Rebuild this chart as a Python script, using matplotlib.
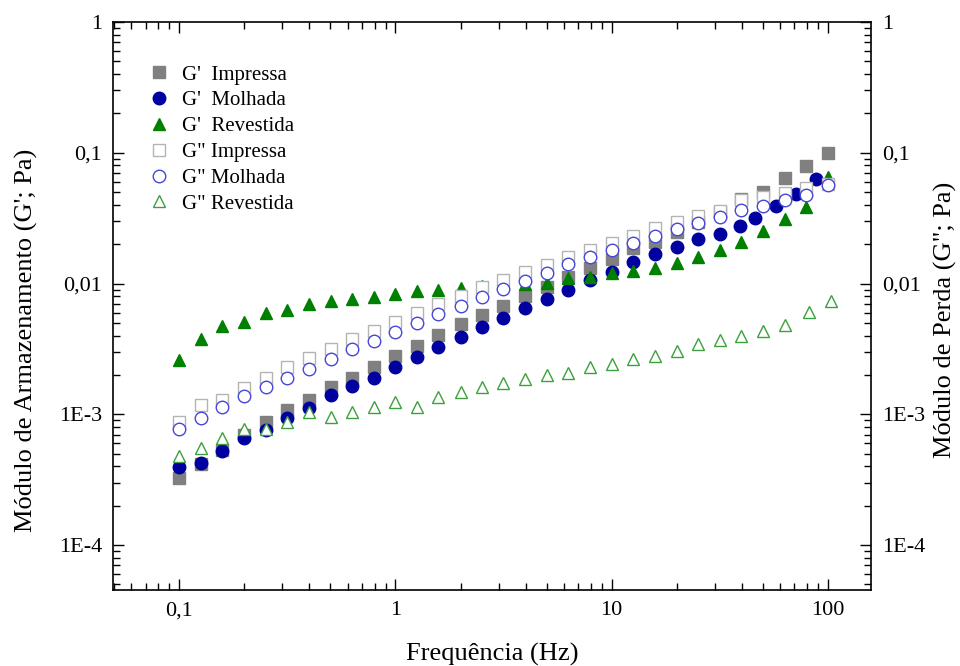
import matplotlib
matplotlib.use('Agg')
from matplotlib import pyplot as plt
from matplotlib import ticker

# frequency sweep (Hz)
freq = [0.1, 0.126, 0.158, 0.2, 0.251, 0.316, 0.398, 0.501, 0.631, 0.794,
        1.0, 1.26, 1.58, 2.0, 2.51, 3.16, 3.98, 5.01, 6.31, 7.94,
        10.0, 12.6, 15.8, 20.0, 25.1, 31.6, 39.8, 50.1, 63.1, 79.4, 100.0]
# G' Molhada drifts a bit at the high end
freq_molhada = freq[:26] + [39.4, 46.0, 57.4, 71.0, 88.3]
# G'' Revestida last two points
freq_revestida2 = freq[:29] + [81.6, 104.0]

g1_impressa = [3.24e-4, 4.17e-4, 5.37e-4, 6.92e-4, 8.71e-4, 1.08e-3, 1.28e-3, 1.62e-3, 1.91e-3, 2.31e-3,
               2.79e-3, 3.32e-3, 4.04e-3, 4.90e-3, 5.75e-3, 6.73e-3, 8.09e-3, 9.35e-3, 0.0113, 0.0131,
               0.0153, 0.0186, 0.0207, 0.0246, 0.0295, 0.0355, 0.0442, 0.0501, 0.0638, 0.0794, 0.100]
g1_molhada = [3.93e-4, 4.22e-4, 5.26e-4, 6.55e-4, 7.59e-4, 9.44e-4, 1.12e-3, 1.40e-3, 1.64e-3, 1.88e-3,
              2.31e-3, 2.75e-3, 3.29e-3, 3.87e-3, 4.68e-3, 5.48e-3, 6.46e-3, 7.62e-3, 8.91e-3, 0.0106,
              0.0123, 0.0147, 0.0169, 0.0191, 0.0218, 0.0239, 0.0275, 0.0316, 0.0392, 0.0484, 0.0627]
g1_revestida = [2.60e-3, 3.74e-3, 4.75e-3, 5.10e-3, 5.92e-3, 6.27e-3, 7.00e-3, 7.40e-3, 7.59e-3, 7.93e-3,
                8.28e-3, 8.71e-3, 8.87e-3, 9.23e-3, 9.62e-3, 9.86e-3, 0.0100, 0.0101, 0.0110, 0.0113,
                0.0120, 0.0125, 0.0131, 0.0143, 0.0159, 0.0180, 0.0209, 0.0251, 0.0310, 0.0387, 0.0656]
g2_impressa = [8.77e-4, 1.18e-3, 1.29e-3, 1.59e-3, 1.88e-3, 2.30e-3, 2.70e-3, 3.17e-3, 3.74e-3, 4.35e-3,
               5.11e-3, 5.98e-3, 6.93e-3, 8.02e-3, 9.33e-3, 0.0106, 0.0122, 0.0139, 0.0159, 0.0180,
               0.0203, 0.0231, 0.0264, 0.0297, 0.0328, 0.0361, 0.0432, 0.0461, 0.0496, 0.0535, 0.0582]
g2_molhada = [7.71e-4, 9.31e-4, 1.14e-3, 1.39e-3, 1.61e-3, 1.91e-3, 2.22e-3, 2.64e-3, 3.14e-3, 3.66e-3,
              4.24e-3, 4.99e-3, 5.81e-3, 6.73e-3, 7.83e-3, 9.02e-3, 0.0105, 0.0121, 0.0140, 0.0159,
              0.0180, 0.0205, 0.0231, 0.0259, 0.0292, 0.0324, 0.0363, 0.0393, 0.0437, 0.0475, 0.0566]
g2_revestida = [4.84e-4, 5.50e-4, 6.58e-4, 7.76e-4, 7.66e-4, 8.77e-4, 1.05e-3, 9.57e-4, 1.05e-3, 1.14e-3,
                1.24e-3, 1.14e-3, 1.35e-3, 1.49e-3, 1.61e-3, 1.73e-3, 1.86e-3, 2.00e-3, 2.07e-3, 2.30e-3,
                2.42e-3, 2.66e-3, 2.77e-3, 3.07e-3, 3.47e-3, 3.68e-3, 3.96e-3, 4.37e-3, 4.82e-3, 6.07e-3, 7.36e-3]

y_labels = {1.0: '1', 0.1: '0,1', 0.01: '0,01', 1e-3: '1E-3', 1e-4: '1E-4'}
x_labels = {0.1: '0,1', 1.0: '1', 10.0: '10', 100.0: '100'}

plt.rcParams['font.family'] = ['Liberation Serif', 'DejaVu Serif']


# formats log ticks with the comma style labels
def label_from(table):
    def fmt(v, pos):
        for k, s in table.items():
            if abs(v - k) < k * 1e-6:
                return s
        return ''
    return ticker.FuncFormatter(fmt)


fig = plt.figure(figsize=(9.6, 6.66), dpi=100)
ax = fig.add_axes([0.118, 0.114, 0.789, 0.853])

ms = 8
# filled markers (G')
ax.plot(freq, g1_impressa, 's', ms=ms, color='#808080', mec='#808080', label="G'  Impressa")
ax.plot(freq_molhada, g1_molhada, 'o', ms=ms + 1, color='#0000A0', mec='#0000A0', label="G'  Molhada")
ax.plot(freq, g1_revestida, '^', ms=ms + 1, color='#008000', mec='#008000', label="G'  Revestida")
# open markers (G'')
ax.plot(freq, g2_impressa, 's', ms=ms, mfc='white', mec='#b4b4b4', mew=1.0, label='G" Impressa')
ax.plot(freq, g2_molhada, 'o', ms=ms + 1, mfc='white', mec='#4646d8', mew=1.0, label='G" Molhada')
ax.plot(freq_revestida2, g2_revestida, '^', ms=ms + 1, mfc='white', mec='#3ca03c', mew=1.0,
        label='G" Revestida')

ax.set_xscale('log')
ax.set_yscale('log')
ax.set_xlim(0.0495, 158)
ax.set_ylim(4.53e-5, 1)

ax.xaxis.set_major_formatter(label_from(x_labels))
ax.xaxis.set_minor_formatter(ticker.NullFormatter())
ax.yaxis.set_major_locator(ticker.LogLocator(base=10, numticks=10))
ax.yaxis.set_major_formatter(label_from(y_labels))
ax.yaxis.set_minor_formatter(ticker.NullFormatter())
ax.tick_params(which='both', direction='in', top=True, right=True, labelright=True,
               labelsize=16, width=1.0, pad=8)
ax.tick_params(which='major', length=8)
ax.tick_params(which='minor', length=5)
for sp in ax.spines.values():
    sp.set_linewidth(1.2)

ax.set_xlabel('Frequência (Hz)', fontsize=19, labelpad=16)
ax.set_ylabel("Módulo de Armazenamento (G'; Pa)", fontsize=19)
ax.yaxis.set_label_coords(-0.10, 0.44)
# right side label (loss modulus)
fig.text(0.985, 0.52, 'Módulo de Perda (G"; Pa)', fontsize=19, rotation=90,
         ha='center', va='center')

ax.legend(loc='upper left', bbox_to_anchor=(0.025, 0.95), frameon=False, fontsize=15,
          handletextpad=0.5, labelspacing=0.3, handlelength=1.2, borderaxespad=0.3)

fig.savefig('out.png', dpi=100)
